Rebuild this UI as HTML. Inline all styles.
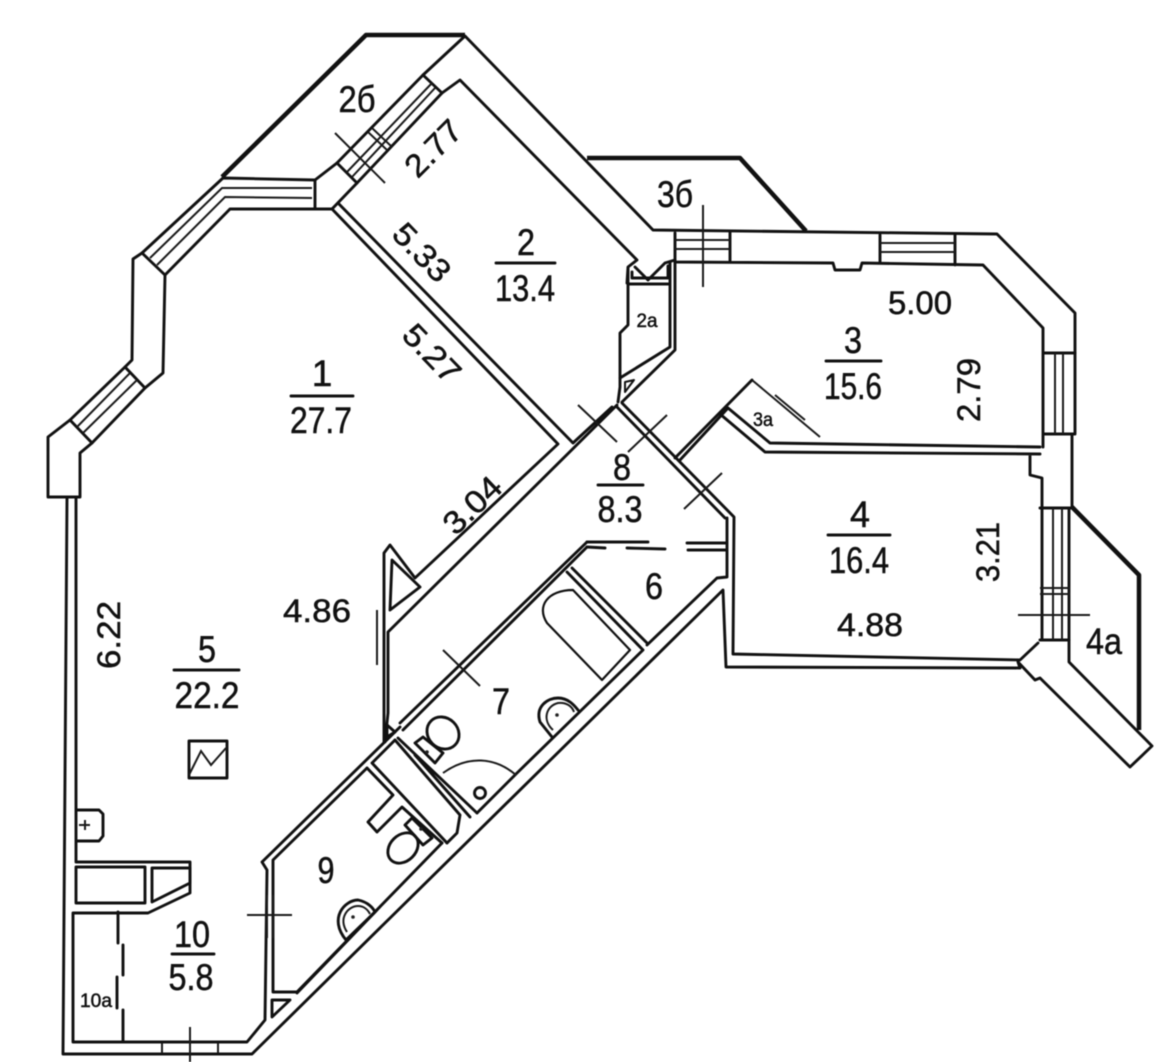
<!DOCTYPE html>
<html><head><meta charset="utf-8"><style>
html,body{margin:0;padding:0;background:#fff}
svg{display:block;filter:blur(.45px)}
.w{fill:none;stroke:#111;stroke-width:2.9;stroke-linejoin:round;stroke-linecap:round}
.t{fill:none;stroke:#1a1a1a;stroke-width:2}
.b{fill:none;stroke:#111;stroke-width:4.5;stroke-linejoin:round}
text{font-family:"Liberation Sans",sans-serif;fill:#111;stroke:#111;stroke-width:.5}
.n{font-size:37px;text-anchor:middle}
.d{font-size:32px;text-anchor:middle}
.s{font-size:19px;text-anchor:middle}
</style></head><body>
<svg width="1170" height="1062" viewBox="0 0 1170 1062" xmlns="http://www.w3.org/2000/svg">
<rect width="1170" height="1062" fill="#fff"/>
<!-- balconies -->
<path class="b" d="M222 177L366 35H465"/>
<path class="b" d="M587 158H740L806 231"/>
<path class="b" d="M1072 507L1139 575V730"/>
<!-- outer wall -->
<path class="w" d="M67 498L63 1054H252L723 590L726 667L1020 668L1018 662L1035 680L1040 678L1130 767L1152 746L1069 662V508M1072 508V434H1075V313L997 234L653 230L465 36L423 75L337 163L315 180L223 178L142 253L133 259L132 360L125 367L70 420L48 437V497H80V453L92 443L145 388L163 373L165 275L230 209H332L357 183L442 93L460 80L637 260L628 267L627 283"/>
<path class="w" d="M315 180V209"/>
<!-- windows 2b -->
<path class="w" d="M423 75L442 93M337 163L357 183"/>
<path class="t" d="M432 83L347 172M435 88L352 177M368 132L387 150M372 128L391 146"/>
<!-- window top-left -->
<path class="t" d="M312 188H222L150 258M312 198L225 197L157 265"/>
<path class="w" d="M142 253L165 275M125 367L145 388M70 420L92 443"/>
<path class="t" d="M130 373L77 427M137 380L83 433"/>
<!-- niche 2a -->
<path class="w" d="M635 267L648 280L665 263L675 260M632 272V278H668V266"/>
<path class="w" d="M628 268V325L620 333V387L618 402"/>
<path class="w" d="M628 284H670M670 263V347L620 378M675 260V350L622 402"/>
<path class="w" d="M625 382L634 380L625 392Z" style="stroke-width:2"/>
<!-- rooms 1 / 2 partitions -->
<path class="w" d="M333 210L558 444L415 578L390 545L384 553V742M338 203L573 443L612 407M617 405L388 632V713L385 742"/>
<path class="w" d="M392 560L390 610L420 587Z"/>
<path class="t" d="M377 610V665"/>
<!-- room 3 -->
<path class="w" d="M675 233V262L833 263L835 270H860L862 263L983 265L1043 328V447M730 231V262M880 235V262M955 235V265M1043 353H1075M1043 434H1072M1040 508H1072M1040 640H1069"/>
<path class="t" d="M675 240H730M675 249H730M880 243H955M880 252H955M1055 353V434M1063 353V434"/>
<path class="w" d="M752 380L675 458M728 408L680 460M728 408L770 443L1040 447M720 414L765 452L1040 454M1030 455V475L1042 478V640"/>
<path class="t" d="M820 437L752 380M775 395L805 420"/>
<!-- room 4 -->
<path class="w" d="M1038 643L1020 660L733 654L734 517L622 403M617 407L725 518"/>
<path class="t" d="M1053 508V640M1062 508V640M1040 588H1070M1040 594H1070"/>
<!-- corridor / room 6 -->
<path class="w" d="M587 542H648M587 547L605 548M627 548L665 549M687 543H726M688 550H727M727 518V577L717 578L647 645"/>
<path class="w" d="M587 542L400 723M587 547L403 730"/>
<path class="w" d="M572 568L647 643M567 572L643 650L517 773L477 813"/>
<path class="w" d="M573 590L630 650L602 680L547 623C536 606 548 590 573 590Z" style="stroke-width:2.2"/>
<!-- room 7 -->
<path class="w" d="M398 738L477 813M415 755L470 817M395 740L460 815L457 833L447 843"/>
<path class="t" d="M443 773C468 755 495 757 516 775"/>
<circle class="w" cx="480" cy="793" r="5.5"/>
<ellipse class="w" cx="443" cy="733" rx="15" ry="17" transform="rotate(-45 443 733)"/>
<path class="w" d="M415 743L423 737L443 753L435 763Z"/>
<circle cx="427" cy="752" r="1.8" fill="#222"/>
<path class="w" d="M552 737L540 722C535 706 548 698 558 698C568 698 574 705 578 710"/>
<path class="t" d="M553 730C542 720 546 706 558 703C566 702 572 706 574 712"/>
<circle cx="557" cy="715" r="1.8" fill="#222"/>
<!-- room 5/10 -->
<path class="w" d="M400 727L262 862L267 870L265 1020L247 1042H73V913H148L190 893V862H76V498"/>
<path class="w" d="M76 867H145V903H76ZM152 868H190V883L152 902Z"/>
<!-- room 9 -->
<path class="w" d="M367 768L273 860V992H297L442 843M297 993L377 910"/>
<path class="w" d="M372 763L395 740M372 763L447 843M367 768L393 795L368 822L377 832L402 807L442 843"/>
<path class="w" d="M272 1000H290L272 1017Z"/>
<path class="t" d="M267 895V938M273 895V938M162 1043V1053M218 1043V1053"/>
<ellipse class="w" cx="403" cy="848" rx="13" ry="17" transform="rotate(45 403 848)"/>
<path class="w" d="M405 825L412 818L432 838L423 845Z"/>
<circle cx="421" cy="829" r="1.8" fill="#222"/>
<path class="w" d="M346 940C328 918 345 900 358 900C368 902 373 908 375 912L348 938Z"/>
<path class="t" d="M347 932C338 918 348 906 358 906C364 906 368 910 370 914"/>
<circle cx="353" cy="917" r="1.8" fill="#222"/>
<path class="w" d="M387 725L395 732L387 737Z" fill="#444"/>
<!-- fixtures -->
<rect class="w" x="189" y="741" width="38" height="37"/>
<path class="t" d="M189 775L201 751L211 765L226 748"/>
<path class="w" d="M77 810H99L103 814V836L99 841H77"/>
<path class="t" d="M79 825H90M85 820V830"/>
<!-- 10a dashes -->
<path class="w" d="M118 912V943M123 945V975M117 977V1008M123 1010V1042"/>
<!-- crosses -->
<path class="t" d="M247 915H292M190 1027V1062M1018 615H1090M703 205V287M335 133L385 183M578 405L617 442M667 415L628 452M722 473L684 509M443 650L480 686"/>
<!-- fraction lines -->
<path class="w" d="M291 396H353M496 263H555M826 361H881M828 535H890M174 670H239M172 954H214M598 485H643"/>
<!-- labels -->
<text class="n" x="322" y="386" textLength="12">1</text>
<text class="n" x="321" y="433" textLength="62" lengthAdjust="spacingAndGlyphs">27.7</text>
<text class="n" x="526" y="255" textLength="18" lengthAdjust="spacingAndGlyphs">2</text>
<text class="n" x="525" y="301" textLength="60" lengthAdjust="spacingAndGlyphs">13.4</text>
<text class="n" x="853" y="353" textLength="18" lengthAdjust="spacingAndGlyphs">3</text>
<text class="n" x="853" y="399" textLength="58" lengthAdjust="spacingAndGlyphs">15.6</text>
<text class="n" x="860" y="527" textLength="20" lengthAdjust="spacingAndGlyphs">4</text>
<text class="n" x="859" y="573" textLength="60" lengthAdjust="spacingAndGlyphs">16.4</text>
<text class="n" x="207" y="662" textLength="18" lengthAdjust="spacingAndGlyphs">5</text>
<text class="n" x="207" y="708" textLength="65" lengthAdjust="spacingAndGlyphs">22.2</text>
<text class="n" x="654" y="599" textLength="18" lengthAdjust="spacingAndGlyphs">6</text>
<text class="n" x="501" y="714" textLength="18" lengthAdjust="spacingAndGlyphs">7</text>
<text class="n" x="622" y="480" textLength="18" lengthAdjust="spacingAndGlyphs">8</text>
<text class="n" x="620" y="522" textLength="45" lengthAdjust="spacingAndGlyphs">8.3</text>
<text class="n" x="326" y="883" textLength="17" lengthAdjust="spacingAndGlyphs">9</text>
<text class="n" x="192" y="947" textLength="36" lengthAdjust="spacingAndGlyphs">10</text>
<text class="n" x="191" y="990" textLength="45" lengthAdjust="spacingAndGlyphs">5.8</text>
<text class="n" x="357" y="112" textLength="37" lengthAdjust="spacingAndGlyphs">2б</text>
<text class="n" x="675" y="207" textLength="36" lengthAdjust="spacingAndGlyphs">3б</text>
<text class="n" x="1104" y="654" textLength="36" lengthAdjust="spacingAndGlyphs">4а</text>
<text class="d" x="920" y="314" textLength="64" lengthAdjust="spacingAndGlyphs">5.00</text>
<text class="d" x="870" y="636" textLength="66" lengthAdjust="spacingAndGlyphs">4.88</text>
<text class="d" x="317" y="622" textLength="68" lengthAdjust="spacingAndGlyphs">4.86</text>
<text class="d" transform="translate(120 635) rotate(-90)" textLength="68" lengthAdjust="spacingAndGlyphs">6.22</text>
<text class="d" transform="translate(980 390) rotate(-90)" textLength="64" lengthAdjust="spacingAndGlyphs">2.79</text>
<text class="d" transform="translate(999 552) rotate(-90)" textLength="60" lengthAdjust="spacingAndGlyphs">3.21</text>
<text class="d" transform="translate(441 156) rotate(-45)" textLength="66" lengthAdjust="spacingAndGlyphs">2.77</text>
<text class="d" transform="translate(414 260) rotate(46)" textLength="68" lengthAdjust="spacingAndGlyphs">5.33</text>
<text class="d" transform="translate(424 361) rotate(46)" textLength="68" lengthAdjust="spacingAndGlyphs">5.27</text>
<text class="d" transform="translate(480 513) rotate(-44)" textLength="68" lengthAdjust="spacingAndGlyphs">3.04</text>
<text class="s" x="647" y="327" textLength="21" lengthAdjust="spacingAndGlyphs">2а</text>
<text class="s" x="763" y="426" textLength="20" lengthAdjust="spacingAndGlyphs">3а</text>
<text class="s" x="96" y="1007" textLength="32" lengthAdjust="spacingAndGlyphs">10а</text>
</svg></body></html>
